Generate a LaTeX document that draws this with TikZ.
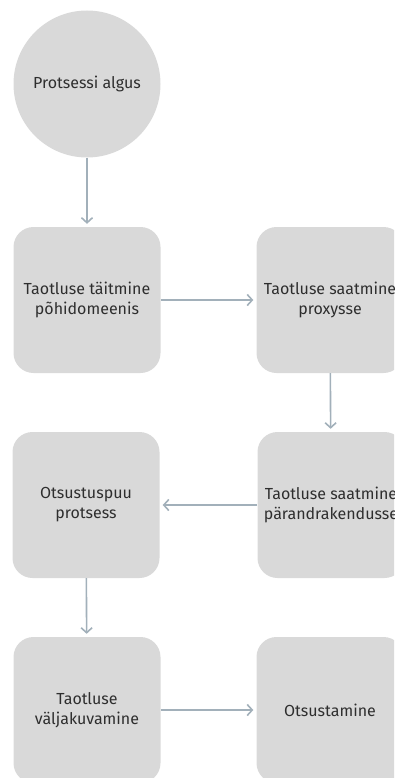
\documentclass[tikz,border=0pt]{standalone}
\usepackage{fontspec}
\setmainfont{Fira Sans}
\usetikzlibrary{arrows.meta}
\definecolor{boxgray}{HTML}{D9D9D9}
\definecolor{linkgray}{HTML}{A2B0BA}
\definecolor{textgray}{HTML}{2E2E2E}
\tikzset{
  stepbox/.style={fill=boxgray, rounded corners=20pt, minimum width=147pt,
    minimum height=146pt, align=center, text=textgray, inner sep=0pt},
  startnode/.style={fill=boxgray, circle, minimum size=147pt,
    text=textgray, inner sep=0pt},
  link/.style={->, linkgray, line width=1.6pt, shorten >=3pt}
}
\begin{document}
\begin{tikzpicture}[x=1pt, y=-1pt, >={Straight Barb[length=5pt,width=11pt]},
    font=\fontsize{16}{20}\selectfont]
  \useasboundingbox (0,0) rectangle (394,778);
  \clip (0,0) rectangle (394,778);
  % first column and second column of steps
  \node[startnode] (algus) at (87,84) {Protsessi algus};
  \node[stepbox] (taitmine) at (87,300) {Taotluse täitmine\\põhidomeenis};
  \node[stepbox] (proxy) at (330,300) {Taotluse saatmine\\proxysse};
  \node[stepbox] (puu) at (86,505) {Otsustuspuu\\protsess};
  \node[stepbox] (parand) at (331,505) {Taotluse saatmine\\pärandrakendusse};
  \node[stepbox] (kuva) at (87,710) {Taotluse\\väljakuvamine};
  \node[stepbox] (otsus) at (330,710) {Otsustamine};
  % connectors
  \draw[link] (algus) -- (taitmine);
  \draw[link] (taitmine) -- (proxy);
  \draw[link] (proxy) -- (parand);
  \draw[link] (parand) -- (puu);
  \draw[link] (puu) -- (kuva);
  \draw[link] (kuva) -- (otsus);
\end{tikzpicture}
\end{document}
